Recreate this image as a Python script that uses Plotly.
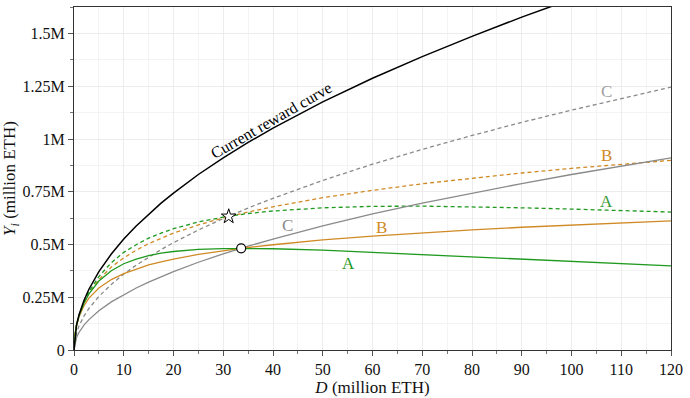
import plotly.graph_objects as go

# Staked ETH D (million ETH)
D = [0, 0.25, 0.5, 1, 2, 3, 5, 7.5, 10, 12.5, 15, 17.5, 20, 25, 30, 35, 40, 50, 60, 70, 80, 90, 100, 110, 120]

# Yearly issuance Y_i (million ETH)
current = [0, 0.083, 0.118, 0.166, 0.235, 0.288, 0.372, 0.455, 0.526, 0.588, 0.644, 0.696, 0.744, 0.832, 0.911,
           0.984, 1.052, 1.176, 1.288, 1.391, 1.487, 1.578, 1.663, 1.744, 1.822]
A_solid = [0, 0.083, 0.116, 0.162, 0.222, 0.266, 0.327, 0.376, 0.409, 0.431, 0.447, 0.459, 0.467, 0.477, 0.481,
           0.482, 0.480, 0.473, 0.462, 0.451, 0.440, 0.429, 0.418, 0.408, 0.399]
B_solid = [0, 0.082, 0.114, 0.156, 0.210, 0.246, 0.294, 0.334, 0.362, 0.384, 0.403, 0.418, 0.431, 0.453, 0.471,
           0.486, 0.499, 0.522, 0.540, 0.556, 0.569, 0.582, 0.593, 0.603, 0.612]
C_solid = [0, 0.042, 0.059, 0.083, 0.118, 0.144, 0.186, 0.228, 0.263, 0.294, 0.322, 0.348, 0.372, 0.416, 0.456,
           0.492, 0.526, 0.588, 0.645, 0.696, 0.744, 0.789, 0.832, 0.873, 0.911]
A_dash = [0, 0.083, 0.117, 0.164, 0.229, 0.277, 0.348, 0.414, 0.463, 0.499, 0.530, 0.554, 0.575, 0.607, 0.630,
          0.647, 0.659, 0.674, 0.681, 0.682, 0.679, 0.674, 0.668, 0.662, 0.654]
B_dash = [0, 0.083, 0.116, 0.162, 0.224, 0.269, 0.334, 0.393, 0.437, 0.473, 0.504, 0.530, 0.554, 0.593, 0.626,
          0.654, 0.679, 0.722, 0.757, 0.788, 0.815, 0.839, 0.861, 0.881, 0.899]
C_dash = [0, 0.057, 0.080, 0.114, 0.161, 0.197, 0.254, 0.311, 0.360, 0.402, 0.440, 0.476, 0.509, 0.569, 0.623,
          0.673, 0.719, 0.804, 0.881, 0.951, 1.017, 1.079, 1.137, 1.193, 1.246]

circle_pt = ([33.6], [0.482])
star_pt = ([31.1], [0.633])

y_ticks = [0, 0.25, 0.5, 0.75, 1.0, 1.25, 1.5]
y_ticktext = ["0", "0.25M", "0.5M", "0.75M", "1M", "1.25M", "1.5M"]
x_ticks = list(range(0, 121, 10))

BLACK = "#000000"
GREEN = "#1f9a1f"
ORANGE = "#d08a25"
GRAY = "#8a8a8a"
FONT = "'Liberation Serif', 'Times New Roman', 'DejaVu Serif', serif"

fig = go.Figure()

def add(y, color, dash, width=1.3):
    fig.add_trace(go.Scatter(x=D, y=y, mode="lines", line=dict(color=color, width=width, dash=dash),
                             showlegend=False, hoverinfo="skip"))

add(C_dash, GRAY, "4px,3px")
add(B_dash, ORANGE, "4px,3px")
add(A_dash, GREEN, "4px,3px")
add(C_solid, GRAY, "solid")
add(B_solid, ORANGE, "solid")
add(A_solid, GREEN, "solid")
add(current, BLACK, "solid", 1.5)

fig.add_trace(go.Scatter(x=circle_pt[0], y=circle_pt[1], mode="markers",
                         marker=dict(symbol="circle", size=9, color="white",
                                     line=dict(color="black", width=1.2)),
                         showlegend=False, hoverinfo="skip"))
fig.add_trace(go.Scatter(x=star_pt[0], y=star_pt[1], mode="markers",
                         marker=dict(symbol="star", size=11, color="white",
                                     line=dict(color="black", width=1)),
                         showlegend=False, hoverinfo="skip"))

labels = [
    (39.6, 1.087, "Current reward curve", BLACK, 16, -30),
    (107, 1.227, "C", "#a0a0a0", 17, 0),
    (107, 0.922, "B", ORANGE, 17, 0),
    (107, 0.703, "A", "#3a9a3a", 17, 0),
    (42.9, 0.589, "C", "#8a8a8a", 17, 0),
    (61.8, 0.58, "B", ORANGE, 17, 0),
    (55.2, 0.41, "A", GREEN, 17, 0),
]
for x, y, t, c, s, ang in labels:
    fig.add_annotation(x=x, y=y, text=t, showarrow=False, textangle=ang,
                       font=dict(family=FONT, size=s, color=c))

axis_common = dict(
    showline=True, linecolor="#333333", linewidth=1.2, mirror=True,
    ticks="outside", ticklen=5, tickcolor="#555555", tickwidth=1,
    showgrid=True, gridcolor="#ececec", gridwidth=1, zeroline=False,
    tickfont=dict(family=FONT, size=16, color="#111111"),
)

fig.update_xaxes(range=[0, 120], tickvals=x_ticks,
                 minor=dict(dtick=5, tick0=0, ticks="outside", ticklen=3, tickcolor="#777777",
                            showgrid=True, gridcolor="#f4f4f4"),
                 title=dict(text="<i>D</i> (million ETH)", font=dict(family=FONT, size=17, color="#111111"),
                            standoff=2),
                 **axis_common)
fig.update_yaxes(range=[0, 1.626], tickvals=y_ticks, ticktext=y_ticktext,
                 minor=dict(dtick=0.125, tick0=0, ticks="outside", ticklen=3, tickcolor="#777777",
                            showgrid=True, gridcolor="#f4f4f4"),
                 title=dict(text="<i>Y<sub>i</sub></i> (million ETH)", font=dict(family=FONT, size=17, color="#111111"),
                            standoff=4),
                 **axis_common)

fig.update_layout(width=690, height=398, margin=dict(l=74, r=19, t=6, b=45),
                  plot_bgcolor="white", paper_bgcolor="white",
                  font=dict(family=FONT))

fig.write_html("out.html", config={"displayModeBar": False},
               post_script="document.body.style.margin='0';document.body.style.padding='0';")
